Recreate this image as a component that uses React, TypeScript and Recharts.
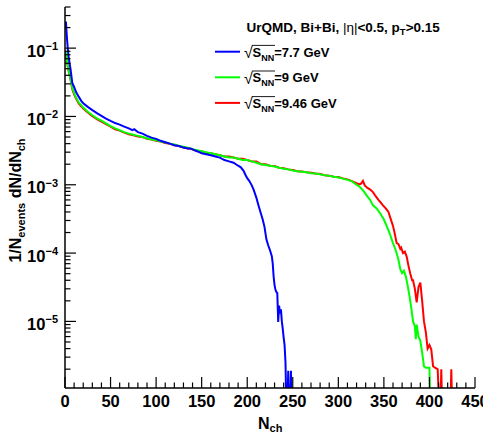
import { Line, LineChart, XAxis, YAxis } from 'recharts'

const FONT = '"Liberation Sans", Arial, Helvetica, sans-serif'

// [N_ch, 1/N_events dN/dN_ch]
const blue77: [number, number][] = [
  [1, 0.245], [2, 0.15], [3, 0.1], [4, 0.075], [5, 0.06], [6, 0.05], [8, 0.031], [10, 0.027],
  [12, 0.023], [15, 0.0195], [18, 0.0168], [20, 0.0156], [25, 0.0138], [30, 0.0124], [35, 0.0112],
  [40, 0.0102], [45, 0.0093], [50, 0.0086], [55, 0.008], [60, 0.0076], [65, 0.0071], [70, 0.0067],
  [74, 0.0063], [76, 0.0065], [80, 0.0059], [85, 0.0056], [90, 0.0052], [95, 0.0049], [100, 0.0047],
  [105, 0.0044], [110, 0.0042], [115, 0.004], [120, 0.0038], [125, 0.0037], [130, 0.0035],
  [135, 0.0034], [138, 0.0034], [140, 0.0033], [145, 0.0031], [150, 0.0029], [155, 0.0028],
  [160, 0.0027], [165, 0.0026], [170, 0.0025], [175, 0.0023], [180, 0.0022], [185, 0.0021],
  [190, 0.0019], [193, 0.0018], [196, 0.0016], [198, 0.0014], [200, 0.00125], [202, 0.00115],
  [205, 0.00098], [207, 0.00085], [210, 0.00065], [212, 0.00052], [215, 0.00038], [217, 0.00031],
  [219, 0.00024], [221, 0.00016], [223, 0.00013], [225, 0.00011], [227, 0.00009], [228, 0.00007],
  [229, 0.000045], [230, 0.000034], [231, 0.000029], [232, 0.000027], [233, 0.000026],
  [234, 0.0000098], [235, 0.000017], [236, 0.000013], [237, 0.000015], [238, 0.00001],
  [239, 0.0000078], [240, 0.0000058], [241, 0.0000045], [242, 0.0000025], [243, 0.0000005],
  [244, 0.0000005], [245, 0.0000019], [246, 0.0000005], [247, 0.0000005], [248, 0.0000019],
  [249, 0.0000005],
]

const green9: [number, number][] = [
  [1, 0.09], [2, 0.068], [3, 0.056], [4, 0.047], [5, 0.041], [6, 0.036], [8, 0.026], [10, 0.022],
  [12, 0.019], [15, 0.016], [18, 0.0145], [20, 0.0135], [25, 0.0117], [30, 0.0104], [35, 0.0094],
  [40, 0.0087], [45, 0.0079], [50, 0.0072], [55, 0.0067], [60, 0.0063], [65, 0.0059], [70, 0.0056],
  [75, 0.0054], [80, 0.0052], [85, 0.005], [90, 0.0048], [95, 0.0046], [100, 0.0045], [105, 0.0043],
  [110, 0.0042], [115, 0.004], [120, 0.0039], [125, 0.0037], [130, 0.0036], [135, 0.0035],
  [140, 0.0033], [145, 0.0032], [150, 0.0031], [155, 0.003], [160, 0.0029], [165, 0.0028],
  [170, 0.0027], [175, 0.0026], [180, 0.0025], [185, 0.0025], [190, 0.0024], [195, 0.0023],
  [200, 0.0023], [205, 0.0022], [210, 0.0021], [215, 0.002], [220, 0.00195], [225, 0.0019],
  [230, 0.00185], [235, 0.00177], [240, 0.00172], [245, 0.00168], [250, 0.00162], [255, 0.00158],
  [260, 0.00155], [265, 0.00152], [270, 0.00148], [275, 0.00146], [280, 0.00142], [285, 0.00138],
  [290, 0.00135], [295, 0.00131], [300, 0.00128], [305, 0.00123], [310, 0.00118], [315, 0.00112],
  [320, 0.001], [324, 0.00092], [328, 0.0008], [331, 0.0007], [335, 0.0006], [338, 0.0005],
  [342, 0.00045], [346, 0.00038], [350, 0.00031], [353, 0.00025], [356, 0.0002], [360, 0.00014],
  [363, 0.00011], [366, 0.00008], [368, 0.000058], [370, 0.000051], [372, 0.000055], [374, 0.000046],
  [376, 0.000034], [378, 0.000024], [380, 0.000016], [382, 0.00001], [384, 0.0000085],
  [385, 0.0000055], [386, 0.000009], [388, 0.000006], [390, 0.0000052], [392, 0.0000035],
  [394, 0.0000022], [396, 0.0000021], [398, 0.0000021], [400, 0.0000021], [401, 0.0000005],
]

const red946: [number, number][] = [
  [1, 0.085], [2, 0.065], [3, 0.054], [4, 0.046], [5, 0.04], [6, 0.035], [8, 0.025], [10, 0.021],
  [12, 0.0185], [15, 0.0155], [18, 0.014], [20, 0.013], [25, 0.0114], [30, 0.0101], [35, 0.0091],
  [40, 0.0084], [45, 0.0077], [50, 0.0071], [55, 0.0065], [60, 0.0062], [65, 0.0058], [70, 0.0055],
  [75, 0.0053], [80, 0.0051], [85, 0.005], [90, 0.0047], [95, 0.0046], [100, 0.0044], [105, 0.0043],
  [110, 0.0041], [115, 0.004], [120, 0.0038], [125, 0.0037], [130, 0.0035], [135, 0.0034],
  [140, 0.0033], [145, 0.0031], [150, 0.0031], [155, 0.0029], [160, 0.0029], [165, 0.0028],
  [170, 0.0027], [175, 0.0026], [180, 0.0026], [185, 0.0025], [190, 0.0024], [195, 0.0024],
  [200, 0.0023], [205, 0.0022], [210, 0.0022], [215, 0.002], [220, 0.002], [225, 0.0019],
  [230, 0.00188], [235, 0.00178], [240, 0.00175], [245, 0.00168], [250, 0.00165], [255, 0.00158],
  [260, 0.00157], [265, 0.00152], [270, 0.0015], [275, 0.00146], [280, 0.00144], [285, 0.00138],
  [290, 0.00136], [295, 0.00131], [300, 0.0013], [305, 0.00124], [310, 0.0012], [315, 0.00113],
  [320, 0.00106], [323, 0.00101], [325, 0.00104], [327, 0.00114], [329, 0.00098], [332, 0.0009],
  [335, 0.00085], [338, 0.00078], [341, 0.00068], [344, 0.0006], [346, 0.00056], [349, 0.0005],
  [352, 0.00045], [355, 0.0004], [357, 0.00033], [360, 0.00025], [362, 0.00019], [364, 0.00014],
  [366, 0.000135], [368, 0.000115], [369, 0.00012], [371, 0.0001], [373, 0.000105], [375, 0.000089],
  [377, 0.000065], [379, 0.00005], [381, 0.00004], [382, 0.00004], [384, 0.00003], [386, 0.000019],
  [388, 0.000032], [390, 0.000037], [392, 0.00002], [394, 0.00001], [396, 0.000007], [398, 0.000004],
  [400, 0.0000045], [402, 0.0000039], [404, 0.0000022], [406, 0.0000021], [409, 0.000002],
  [411, 0.0000005], [412, 0.0000005], [413, 0.000002], [414, 0.0000005], [423, 0.0000005],
  [424, 0.000002], [425, 0.0000005],
]

const xMajorTicks = [0, 50, 100, 150, 200, 250, 300, 350, 400, 450]
const xMinorTicks = [10, 20, 30, 40]
const yMajorTicks = [1e-6, 1e-5, 1e-4, 1e-3, 1e-2, 1e-1]
const yMinorMultipliers = [2, 3, 4, 5, 6, 7, 8, 9]
const yMin = 1.06e-6
const yMax = 0.4

const legendItems = [
  { label: '=7.7 GeV', color: '#0000ff' },
  { label: '=9 GeV', color: '#00ff00' },
  { label: '=9.46 GeV', color: '#ff0000' },
]

const toRows = (pts: [number, number][]) => pts.map(([n, v]) => ({ n, v }))

const xTicks = xMajorTicks.flatMap((m) => (m < 450 ? [m, ...xMinorTicks.map((s) => m + s)] : [m]))
const yTicks = yMajorTicks
  .flatMap((d) => [d, ...yMinorMultipliers.map((k) => k * d)])
  .filter((v) => v >= yMin && v <= yMax)

const PLOT_LEFT = 65
const PLOT_BOTTOM = 388

function XTick(props: any) {
  const { x, payload } = props
  const v = payload.value as number
  const major = v % 50 === 0
  return (
    <g>
      <line x1={x} x2={x} y1={PLOT_BOTTOM} y2={PLOT_BOTTOM - (major ? 11 : 5.5)} stroke="#000" strokeWidth={1.2} />
      {major && (
        <text x={x} y={406.5} textAnchor="middle" fontFamily={FONT} fontWeight="bold" fontSize={16.5} fill="#000">
          {v}
        </text>
      )}
    </g>
  )
}

function YTick(props: any) {
  const { y, payload } = props
  const v = payload.value as number
  const exp = Math.round(Math.log10(v))
  const major = Math.abs(Math.log10(v) - exp) < 1e-6
  return (
    <g>
      <line x1={PLOT_LEFT} x2={PLOT_LEFT + (major ? 11 : 5.5)} y1={y} y2={y} stroke="#000" strokeWidth={1.2} />
      {major && (
        <text x={58} y={y + 8.5} textAnchor="end" fontFamily={FONT} fontWeight="bold" fontSize={16.5} fill="#000">
          10
          <tspan dy={-6.5} fontSize={11}>
            {'\u2212' + Math.abs(exp)}
          </tspan>
        </text>
      )}
    </g>
  )
}

function Overlay() {
  return (
    <svg width={483} height={434} style={{ position: 'absolute', left: 0, top: 0, pointerEvents: 'none' }}>
      <text x={246.5} y={31.7} fontFamily={FONT} fontWeight="bold" fontSize={13.5} fill="#000">
        UrQMD, Bi+Bi, <tspan fontWeight="normal">|η|</tspan>&lt;0.5, p
        <tspan dy={3.5} fontSize={9.5}>T</tspan>
        <tspan dy={-3.5}>&gt;0.15</tspan>
      </text>
      {legendItems.map((it, i) => {
        const b = 56.7 + i * 25.6
        return (
          <g key={it.label}>
            <line x1={215} x2={240} y1={b - 5} y2={b - 5} stroke={it.color} strokeWidth={2} />
            <text x={244} y={b + 1.5} fontFamily={FONT} fontSize={16} fill="#000">
              √
            </text>
            <line x1={252} x2={275} y1={b - 11.3} y2={b - 11.3} stroke="#000" strokeWidth={0.9} />
            <text x={252.5} y={b} fontFamily={FONT} fontWeight="bold" fontSize={13} fill="#000">
              S
              <tspan dy={4} fontSize={9}>NN</tspan>
              <tspan dy={-4}>{it.label}</tspan>
            </text>
          </g>
        )
      })}
      <text x={258} y={428.5} fontFamily={FONT} fontWeight="bold" fontSize={16} fill="#000">
        N<tspan dy={3.5} fontSize={11}>ch</tspan>
      </text>
      <g transform="translate(21,200.5) rotate(-90)">
        <text x={0} y={0} textAnchor="middle" fontFamily={FONT} fontWeight="bold" fontSize={16} fill="#000">
          1/N<tspan dy={4} fontSize={11}>events</tspan>
          <tspan dy={-4}> dN/dN</tspan>
          <tspan dy={4} fontSize={11}>ch</tspan>
        </text>
      </g>
    </svg>
  )
}

export default function App() {
  return (
    <div style={{ position: 'absolute', left: 0, top: 0, width: 483, height: 434, background: '#fff' }}>
      <LineChart width={483} height={434} margin={{ top: 7, right: 8, bottom: 0, left: 0 }}>
        <XAxis
          dataKey="n"
          type="number"
          domain={[0, 450]}
          allowDataOverflow
          ticks={xTicks}
          interval={0}
          height={46}
          tickLine={false}
          tick={<XTick />}
          axisLine={{ stroke: '#000', strokeWidth: 1.5 }}
        />
        <XAxis
          xAxisId="top"
          orientation="top"
          type="number"
          domain={[0, 450]}
          height={0}
          tick={false}
          tickLine={false}
          axisLine={{ stroke: '#000', strokeWidth: 1 }}
        />
        <YAxis
          scale="log"
          type="number"
          domain={[yMin, yMax]}
          allowDataOverflow
          ticks={yTicks}
          interval={0}
          width={65}
          tickLine={false}
          tick={<YTick />}
          axisLine={{ stroke: '#000', strokeWidth: 1.5 }}
        />
        <YAxis
          yAxisId="right"
          orientation="right"
          width={0}
          tick={false}
          tickLine={false}
          axisLine={{ stroke: '#000', strokeWidth: 1 }}
        />
        <Line data={toRows(red946)} dataKey="v" stroke="#ff0000" strokeWidth={2} dot={false} isAnimationActive={false} />
        <Line data={toRows(green9)} dataKey="v" stroke="#00ff00" strokeWidth={2} dot={false} isAnimationActive={false} />
        <Line data={toRows(blue77)} dataKey="v" stroke="#0000ff" strokeWidth={2} dot={false} isAnimationActive={false} />
      </LineChart>
      <Overlay />
    </div>
  )
}
